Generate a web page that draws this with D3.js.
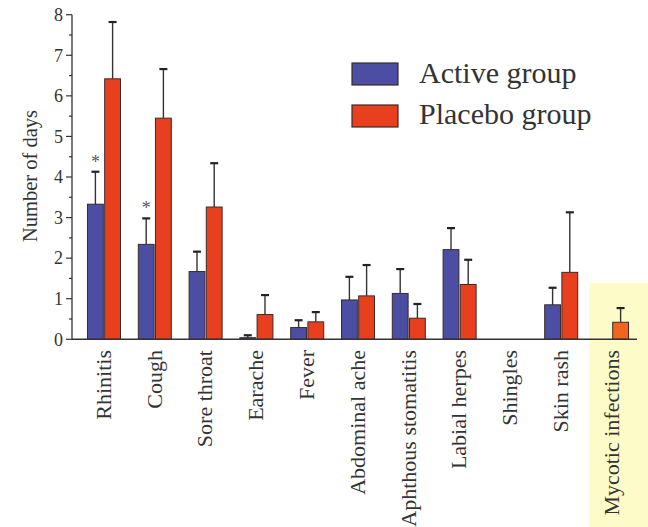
<!DOCTYPE html>
<html><head><meta charset="utf-8">
<script src="https://cdn.jsdelivr.net/npm/d3@7"></script>
<style>body{margin:0;background:#fff}svg{display:block}</style>
</head><body><svg id="c" width="648" height="527"></svg>
<script>
const categories = ["Rhinitis","Cough","Sore throat","Earache","Fever","Abdominal ache","Aphthous stomatitis","Labial herpes","Shingles","Skin rash","Mycotic infections"];
const activeMean = [3.33,2.34,1.67,0.04,0.29,0.97,1.13,2.21,null,0.85,null];
const activeErr  = [0.80,0.64,0.49,0.06,0.18,0.57,0.60,0.53,null,0.42,null];
const placeboMean = [6.42,5.45,3.26,0.61,0.43,1.07,0.52,1.35,null,1.65,0.42];
const placeboErr  = [1.40,1.21,1.08,0.48,0.24,0.76,0.35,0.61,null,1.48,0.35];
const significant = [true,true,false,false,false,false,false,false,false,false,false];
const seriesNames = ["Active group","Placebo group"];
const yTicks = [0,1,2,3,4,5,6,7,8];

const svg = d3.select("#c");
const font = "Liberation Serif";
const colBlue = "#4b4ea3", colRed = "#e8401f", colOrange = "#f2651f";

const y = d3.scaleLinear().domain([0,8]).range([339.3,14.7]);
const x0 = d3.scaleBand().domain(categories).range([78.6,637.4]).paddingInner(0.35).paddingOuter(0.175);
const x1 = d3.scaleBand().domain(seriesNames).range([0,x0.bandwidth()]).paddingInner(0.08);

// highlight
const hl = categories[10];
svg.append("rect").attr("x", x0(hl)-6).attr("y",283).attr("width",648-(x0(hl)-6)).attr("height",244).attr("fill","#fdfcc9");

// bars
const data = [];
categories.forEach((c,i)=>{
  if(activeMean[i]!=null) data.push({c, s:seriesNames[0], v:activeMean[i], e:activeErr[i], col:colBlue});
  if(placeboMean[i]!=null) data.push({c, s:seriesNames[1], v:placeboMean[i], e:placeboErr[i], col: i===10?colOrange:colRed});
});
const g = svg.append("g");
data.forEach(d=>{
  const bx = x0(d.c)+x1(d.s), bw = x1.bandwidth();
  const cx = bx + bw/2;
  g.append("line").attr("x1",cx).attr("x2",cx).attr("y1",y(d.v)).attr("y2",y(d.v+d.e)).attr("stroke","#333").attr("stroke-width",1.4);
  g.append("line").attr("x1",cx-4).attr("x2",cx+4).attr("y1",y(d.v+d.e)).attr("y2",y(d.v+d.e)).attr("stroke","#222").attr("stroke-width",2.2);
  g.append("rect").attr("x",bx).attr("y",y(d.v)).attr("width",bw).attr("height",y(0)-y(d.v))
    .attr("fill",d.col).attr("stroke","#3a2a2a").attr("stroke-width",1);
});
// significance stars
categories.forEach((c,i)=>{
  if(significant[i]){
    svg.append("text").attr("x", x0(c)+x1(seriesNames[0])+x1.bandwidth()/2).attr("y", y(activeMean[i]+activeErr[i])-4)
      .attr("text-anchor","middle").attr("font-family",font).attr("font-size",18).attr("fill","#555").text("*");
  }
});

// y axis
const yAxis = svg.append("g").attr("transform","translate(72,0)");
yAxis.append("line").attr("x1",0).attr("x2",0).attr("y1",y(0)).attr("y2",y(8)).attr("stroke","#333").attr("stroke-width",1.3);
d3.range(0,8.01,0.5).forEach(v=>{
  const major = Number.isInteger(v);
  yAxis.append("line").attr("x1",major?-6:-3).attr("x2",0).attr("y1",y(v)).attr("y2",y(v)).attr("stroke","#333").attr("stroke-width",1.2);
});
yTicks.forEach(v=>{
  yAxis.append("text").attr("x",-9).attr("y",y(v)).attr("dy","0.35em").attr("text-anchor","end")
    .attr("font-family",font).attr("font-size",18).attr("fill","#333").text(v);
});
svg.append("text").attr("transform","translate(37,176) rotate(-90)").attr("text-anchor","middle")
  .attr("font-family",font).attr("font-size",20.5).attr("fill","#333").text("Number of days");

// x axis
svg.append("line").attr("x1",72).attr("x2",637).attr("y1",y(0)).attr("y2",y(0)).attr("stroke","#333").attr("stroke-width",1.4);
categories.forEach(c=>{
  const cx = x0(c)+x0.bandwidth()/2;
  svg.append("text").attr("transform",`translate(${cx-0.5},350) rotate(-90)`).attr("text-anchor","end").attr("dy","0.33em")
    .attr("font-family",font).attr("font-size",22).attr("fill","#333").text(c);
});

// legend
const lg = svg.append("g");
[colBlue,colRed].forEach((col,i)=>{
  lg.append("rect").attr("x",352).attr("y",63+i*42).attr("width",46).attr("height",22).attr("fill",col).attr("stroke","#3a2a2a").attr("stroke-width",1.2);
  lg.append("text").attr("x",419).attr("y",82.7+i*41.5).attr("font-family",font).attr("font-size",30).attr("fill","#333").text(seriesNames[i]);
});
</script></body></html>
